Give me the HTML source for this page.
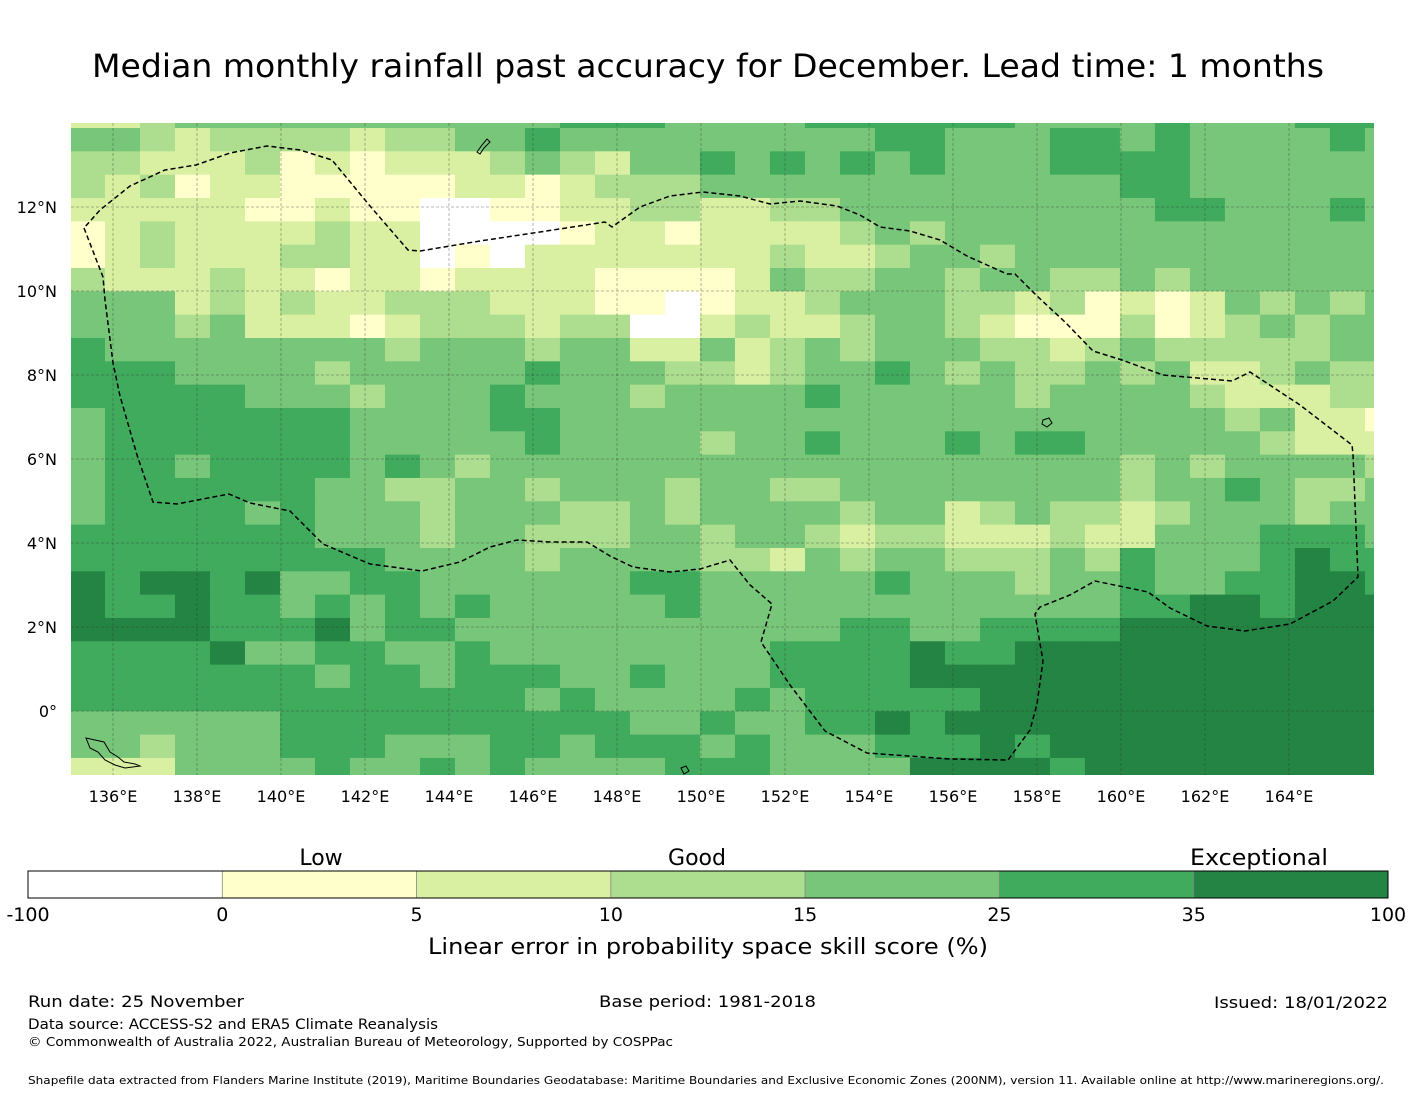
<!DOCTYPE html>
<html><head><meta charset="utf-8"><style>
html,body{margin:0;padding:0;background:#fff;}
svg{display:block;font-family:"DejaVu Sans","Liberation Sans",sans-serif;}
</style></head><body>
<svg id="chart" width="1416" height="1095" viewBox="0 0 1416 1095" xmlns="http://www.w3.org/2000/svg">
<text x="92" y="77" font-size="32" textLength="1232" lengthAdjust="spacingAndGlyphs" fill="#000">Median monthly rainfall past accuracy for December. Lead time: 1 months</text>
<defs><clipPath id="mapclip"><rect x="71" y="123" width="1303" height="652"/></clipPath></defs>
<g id="map" clip-path="url(#mapclip)">
<g id="cells"></g>
<g id="grid"></g>
<path id="eez" fill="none" stroke="#000" stroke-width="1.5" stroke-dasharray="5,3" d="M84,228 L103,277 L105,300 L113,363 L120,396 L137,455 L153,502 L177,504 L208,498 L229,494 L250,503 L290,511 L323,544 L370,564 L422,571 L460,562 L490,547 L517,540 L550,542 L587,542 L610,556 L633,567 L670,572 L700,569 L730,560 L750,585 L772,604 L761,642 L790,685 L825,731 L867,753 L950,759 L1008,760 L1030,730 L1037,704 L1043,661 L1035,614 L1040,607 L1070,595 L1095,581 L1148,592 L1170,608 L1207,626 L1245,631 L1290,624 L1333,601 L1358,577 L1353,454 L1352,445 L1300,405 L1250,372 L1232,381 L1163,375 L1122,360 L1093,351 L1065,322 L1037,296 L1015,274 L1007,274 L967,256 L940,240 L910,231 L880,227 L860,215 L837,206 L800,201 L770,204 L740,196 L703,192 L670,196 L640,207 L612,227 L605,222 L540,232 L480,241 L420,251 L408,250 L370,206 L332,160 L300,150 L267,146 L230,153 L196,165 L165,170 L130,186 L100,210 Z"/>
<g fill="none" stroke="#000" stroke-width="1">
<path d="M86,738 L95,740 L104,742 L110,752 L118,757 L124,762 L135,764 L140,766 L125,768 L115,765 L105,760 L98,752 L90,748 Z"/>
<path d="M477,152 L482,145 L487,139 L490,142 L484,148 L480,154 Z"/>
<path d="M1043,420 L1049,418 L1052,423 L1047,427 L1042,424 Z"/>
<path d="M681,768 L686,766 L689,771 L684,774 Z"/>
</g>
</g>
<g id="xticks" font-size="16" text-anchor="middle"></g>
<g id="yticks" font-size="16" text-anchor="end"></g>
<g id="colorbar"></g>
<text x="321" y="865" font-size="22" text-anchor="middle">Low</text>
<text x="697" y="865" font-size="22" text-anchor="middle">Good</text>
<text x="1190" y="865" font-size="22" textLength="138" lengthAdjust="spacingAndGlyphs">Exceptional</text>
<text x="428" y="954" font-size="22" textLength="560" lengthAdjust="spacingAndGlyphs">Linear error in probability space skill score (%)</text>
<text x="28" y="1007" font-size="16" textLength="216" lengthAdjust="spacingAndGlyphs">Run date: 25 November</text>
<text x="599" y="1007" font-size="16" textLength="217" lengthAdjust="spacingAndGlyphs">Base period: 1981-2018</text>
<text x="1214" y="1008" font-size="16" textLength="174" lengthAdjust="spacingAndGlyphs">Issued: 18/01/2022</text>
<text x="28" y="1029" font-size="14" textLength="410" lengthAdjust="spacingAndGlyphs">Data source: ACCESS-S2 and ERA5 Climate Reanalysis</text>
<text x="28" y="1046" font-size="12.5" textLength="645" lengthAdjust="spacingAndGlyphs">© Commonwealth of Australia 2022, Australian Bureau of Meteorology, Supported by COSPPac</text>
<text x="28" y="1084" font-size="11" textLength="1356" lengthAdjust="spacingAndGlyphs">Shapefile data extracted from Flanders Marine Institute (2019), Maritime Boundaries Geodatabase: Maritime Boundaries and Exclusive Economic Zones (200NM), version 11. Available online at http://www.marineregions.org/.</text>
</svg>
<script>
const levelCodes = ["W","Y","L","M","G","D","E"];
const levelColors = ["#ffffff","#ffffcc","#d9f0a3","#addd8e","#78c679","#41ab5d","#238443"];
const boundLabels = ["-100","0","5","10","15","25","35","100"];
const lonTicks = [136,138,140,142,144,146,148,150,152,154,156,158,160,162,164];
const latTicks = [0,2,4,6,8,10,12];
const lonStart = 134.976, lonStep = 0.8333;
const latTop = 13.881, latStep = 0.5555;
const gridRows = [
"LLMGGGGGGGGGGGDDDGGGGDDDDDDGGGGDGGGDDD",
"GGMLMMMMLMMGGDGGGGGGGGGDDGGGDDGDGGGGDG",
"MMLLLMYLYLLLMGMLGGDGDGDGDGGGDDDDGGGGGG",
"MLMYLLYYYYYLLYLMMMGGGGGGGGGGGGDDGGGGGG",
"LLLLLYYLYYWWYYLLMMLLMMGGGGGGGGGDDGGGDG",
"YLMLLLLMLLWWWWYLLYLLLLMGMGGGGGGGGGGGGG",
"YLMLLLMMLLWYWLLLLLLLMLLMGGMGGGGGGGGGGG",
"MLLLMLLYLLYLLLLYYYYLGMMGGMGGMMGMGGGGGG",
"GGGLMLMLLMMMLLLYYWYLLMGGGMMLMYLYLGMGMG",
"GGGMGLLLYLMMMLMMWWLMLLMGGMLYYYMYLMGMGG",
"DGGGGGGGGMGGGMGGLLGLMGMGGGMMLMGMMMMMGG",
"DDDGGGGMGGGGGDGGGMMLMGGDGMGMMGMGLLMGMM",
"DDDDDGGGMGGGDGGGMGGGGDGGGGGMGGGGMLLLMM",
"GDDDDDDDGGGGDDGGGGGGGGGGGGGGGGGGGMGLLY",
"GDDDDDDDGGGGGDGGGGMGGDGGGDGDDGGGGGMLLL",
"GDDGDDDDGDGMGGGGGGGGGGGGGGGGGGMGMGGGGM",
"GDDDDDDGGMMGGMGGGMGGMMGGGGGGGGMGGDGMMG",
"GDDDDGDGGGMGGGMMGMGGGGMGGLMGMMLMGGGMGG",
"DDDDDDDGGGMGGMMMGGMGGMLMMLLLMLLGGGDDDG",
"DDDDDDDDDGGGGMGGGGMMLGMGGMMMGMDGGGDEDD",
"EDEEDEGGDDGGGGGGDDGGGGGDGGGMGGDGGDDEED",
"EDDEDDGDGDGDGGGGGDGGGGGGGGGGGGDDEEDEEE",
"EEEEDDDEGDDGGGGGGGGGGGDDGGDDDDEEEEEEEE",
"DDDDEGGDDGGDGGGGGGGGDDDDEDDEEEEEEEEEEE",
"DDDDDDDGDDGDDDGGDGGGDDDDEEEEEEEEEEEEEE",
"DDDDDDDDDDDDDGDGGGGDGDDDDDEEEEEEEEEEEE",
"GGGGGGDDDDDDDDDDGGDGGDDEDEEEEEEEEEEEEE",
"GGMGGGDDDGGGDDGDDDGDGGGDDDEDEEEEEEEEEE",
"LLLGGGGDGGDGDGGGGDDDGGGGEEEEDEEEEEEEEE"
];
const NS="http://www.w3.org/2000/svg";
function xScale(lon){return 113 + 42*(lon-136);}
function yScale(lat){return 711 - 42*lat;}
const cells=document.getElementById('cells');
gridRows.forEach((row,r)=>{
  const latA = latTop - latStep*(r-1), latB = latTop - latStep*r;
  for(let c=0;c<row.length;c++){
    const lv=levelCodes.indexOf(row[c]);
    const x0=xScale(lonStart+lonStep*c), x1=xScale(lonStart+lonStep*(c+1));
    const y0 = r===0 ? 118 : yScale(latA), y1=yScale(latB);
    const rc=document.createElementNS(NS,'rect');
    rc.setAttribute('x',x0.toFixed(2));rc.setAttribute('y',y0.toFixed(2));
    rc.setAttribute('width',(x1-x0+0.6).toFixed(2));rc.setAttribute('height',(y1-y0+0.6).toFixed(2));
    rc.setAttribute('fill',levelColors[lv]);
    
    
    cells.appendChild(rc);
  }
});
const grid=document.getElementById('grid');
lonTicks.forEach(lon=>{
  const l=document.createElementNS(NS,'line');const x=xScale(lon);
  l.setAttribute('x1',x);l.setAttribute('x2',x);l.setAttribute('y1',123);l.setAttribute('y2',775);
  l.setAttribute('stroke','#333');l.setAttribute('stroke-opacity','0.45');l.setAttribute('stroke-width','0.8');l.setAttribute('stroke-dasharray','3,2');
  
  
  grid.appendChild(l);
  const t=document.createElementNS(NS,'text');t.setAttribute('x',x);t.setAttribute('y',802);t.textContent=lon+'°E';
  
  
  document.getElementById('xticks').appendChild(t);
});
latTicks.forEach(lat=>{
  const l=document.createElementNS(NS,'line');const y=yScale(lat);
  l.setAttribute('x1',71);l.setAttribute('x2',1374);l.setAttribute('y1',y);l.setAttribute('y2',y);
  l.setAttribute('stroke','#333');l.setAttribute('stroke-opacity','0.45');l.setAttribute('stroke-width','0.8');l.setAttribute('stroke-dasharray','3,2');
  
  
  grid.appendChild(l);
  const t=document.createElementNS(NS,'text');t.setAttribute('x',57);t.setAttribute('y',y+6);t.textContent= lat===0 ? '0°' : lat+'°N';
  
  
  document.getElementById('yticks').appendChild(t);
});
const cb=document.getElementById('colorbar');
const cbX=28, cbW=1360, cbY=871, cbH=27, seg=cbW/levelColors.length;
levelColors.forEach((col,i)=>{
  const rc=document.createElementNS(NS,'rect');
  rc.setAttribute('x',cbX+seg*i);rc.setAttribute('y',cbY);rc.setAttribute('width',seg);rc.setAttribute('height',cbH);
  rc.setAttribute('fill',col);rc.setAttribute('stroke',col==='#ffffff'?'none':col);
  
  
  cb.appendChild(rc);
});
for(let i=1;i<levelColors.length;i++){
  const l=document.createElementNS(NS,'line');
  l.setAttribute('x1',cbX+seg*i);l.setAttribute('x2',cbX+seg*i);l.setAttribute('y1',cbY);l.setAttribute('y2',cbY+cbH);
  l.setAttribute('stroke','#888');l.setAttribute('stroke-width','0.8');
  
  
  cb.appendChild(l);
}
const frame=document.createElementNS(NS,'rect');
frame.setAttribute('x',cbX);frame.setAttribute('y',cbY);frame.setAttribute('width',cbW);frame.setAttribute('height',cbH);
frame.setAttribute('fill','none');frame.setAttribute('stroke','#000');frame.setAttribute('stroke-width','1');


cb.appendChild(frame);
boundLabels.forEach((lb,i)=>{
  const t=document.createElementNS(NS,'text');
  t.setAttribute('x',cbX+seg*i);t.setAttribute('y',921);t.setAttribute('font-size','19');t.setAttribute('text-anchor','middle');
  t.textContent=lb;
  
  
  cb.appendChild(t);
});
</script>
</body></html>
